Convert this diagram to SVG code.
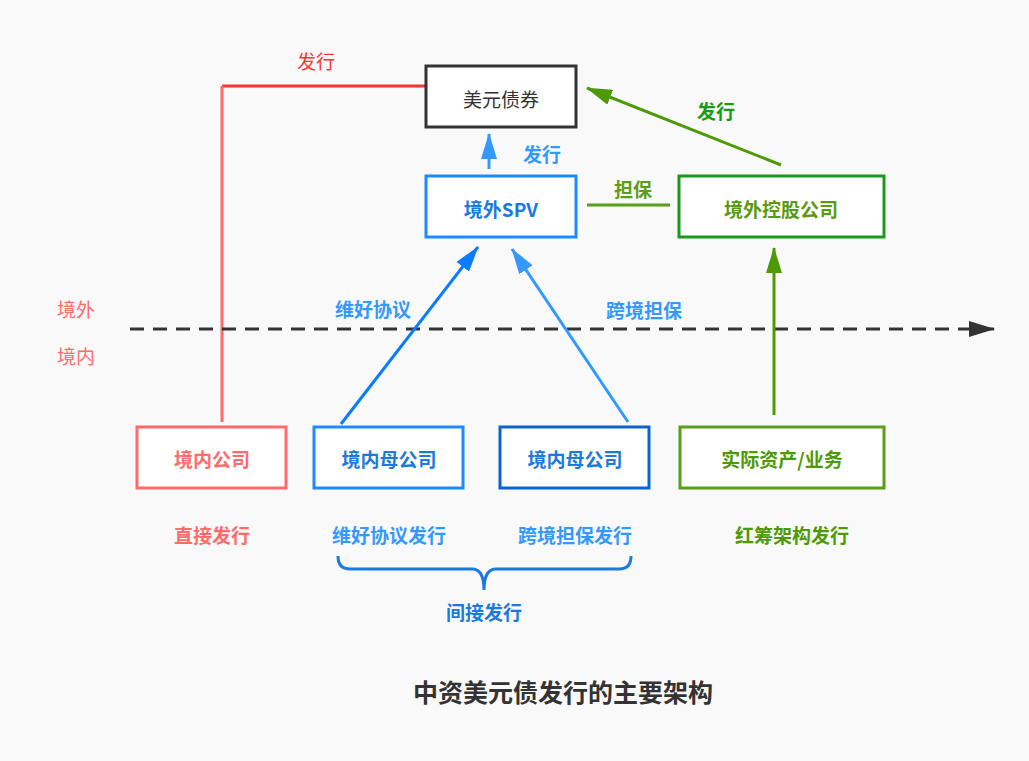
<svg xmlns="http://www.w3.org/2000/svg" width="1029" height="761" viewBox="0 0 1029 761">
<defs>
<style>
text{font-family:"Microsoft YaHei","Noto Sans CJK SC","Liberation Sans",sans-serif;font-size:19px;text-anchor:middle;dominant-baseline:central}
.b{font-weight:bold}
.node{fill:#fff;stroke-width:3}
</style>
<marker id="aBlue" markerUnits="userSpaceOnUse" markerWidth="26" markerHeight="16" refX="25" refY="8" orient="auto"><path d="M0,0 L26,8 L0,16 z" fill="#3399ff"/></marker>
<marker id="aBlue2" markerUnits="userSpaceOnUse" markerWidth="26" markerHeight="16" refX="25" refY="8" orient="auto"><path d="M0,0 L26,8 L0,16 z" fill="#0a7cff"/></marker>
<marker id="aGreen" markerUnits="userSpaceOnUse" markerWidth="26" markerHeight="16" refX="25" refY="8" orient="auto"><path d="M0,0 L26,8 L0,16 z" fill="#4e9a06"/></marker>
<marker id="aDark" markerUnits="userSpaceOnUse" markerWidth="26" markerHeight="16" refX="25" refY="8" orient="auto"><path d="M0,0 L26,8 L0,16 z" fill="#333"/></marker>
</defs>
<rect width="1029" height="761" fill="#f9f9f9"/>

<g id="connectors" fill="none">
<path d="M426,86 L222,86" stroke="#ff3333" stroke-width="3"/>
<path d="M222,86 L222,422" stroke="#ff6b6b" stroke-width="3"/>
<path d="M130,329 L994,329" stroke="#333" stroke-width="3" stroke-dasharray="14,9" marker-end="url(#aDark)"/>
<path d="M489,169 L489,134" stroke="#3399ff" stroke-width="3" marker-end="url(#aBlue)"/>
<path d="M587,205 L670,205" stroke="#5a9e1a" stroke-width="3"/>
<path d="M781,165 L587,88" stroke="#4e9a06" stroke-width="3" marker-end="url(#aGreen)"/>
<path d="M774,415 L774,248" stroke="#4e9a06" stroke-width="3" marker-end="url(#aGreen)"/>
<path d="M341,424 L478,247" stroke="#0a7cff" stroke-width="3" marker-end="url(#aBlue2)"/>
<path d="M628,422 L512,249" stroke="#3399ff" stroke-width="3" marker-end="url(#aBlue)"/>
<path d="M338,556 Q338,569 350,569 L472,569 Q484,569 484,590 Q484,569 496,569 L619,569 Q631,569 631,556" stroke="#1a7ae0" stroke-width="3"/>
</g>

<g id="edge-labels">
<text x="316" y="60" fill="#ff3333">发行</text>
<text x="542" y="153" class="b" fill="#3399ff">发行</text>
<text x="633" y="188" class="b" fill="#5a9e1a">担保</text>
<text x="716" y="110" class="b" fill="#1a9a1a">发行</text>
<text x="373" y="308" class="b" fill="#3399ff">维好协议</text>
<text x="644" y="309" class="b" fill="#3399ff">跨境担保</text>
<text x="76" y="308" fill="#ff6b6b">境外</text>
<text x="76" y="355" fill="#ff6b6b">境内</text>
</g>

<g id="n-bond"><rect class="node" x="426" y="66" width="150" height="61" stroke="#333"/><text x="501" y="98" fill="#333">美元债券</text></g>
<g id="n-spv"><rect class="node" x="426" y="176" width="150" height="61" stroke="#1a8cff"/><text x="501" y="208" class="b" fill="#1a7ae0">境外SPV</text></g>
<g id="n-hold"><rect class="node" x="679" y="176" width="205" height="61" stroke="#1a9a1a"/><text x="781" y="208" class="b" fill="#5a9a10">境外控股公司</text></g>
<g id="n-dom"><rect class="node" x="137" y="427" width="149" height="61" stroke="#ff6b6b"/><text x="212" y="458" class="b" fill="#ff6b6b">境内公司</text></g>
<g id="n-parent1"><rect class="node" x="314" y="427" width="149" height="61" stroke="#1a8cff"/><text x="389" y="458" class="b" fill="#1a7ae0">境内母公司</text></g>
<g id="n-parent2"><rect class="node" x="500" y="427" width="149" height="61" stroke="#0a66cc"/><text x="575" y="458" class="b" fill="#1a7ae0">境内母公司</text></g>
<g id="n-asset"><rect class="node" x="680" y="427" width="204" height="61" stroke="#5a9e1a"/><text x="782" y="458" class="b" fill="#4e9a06">实际资产/业务</text></g>

<g id="captions">
<text x="212" y="534" class="b" fill="#ff6b6b">直接发行</text>
<text x="389" y="534" class="b" fill="#3399ff">维好协议发行</text>
<text x="575" y="534" class="b" fill="#3399ff">跨境担保发行</text>
<text x="792" y="534" class="b" fill="#4e9a06">红筹架构发行</text>
<text x="484" y="611" class="b" fill="#1a7ae0">间接发行</text>
<text x="563" y="691" class="b" fill="#333" style="font-size:25px">中资美元债发行的主要架构</text>
</g>
</svg>
